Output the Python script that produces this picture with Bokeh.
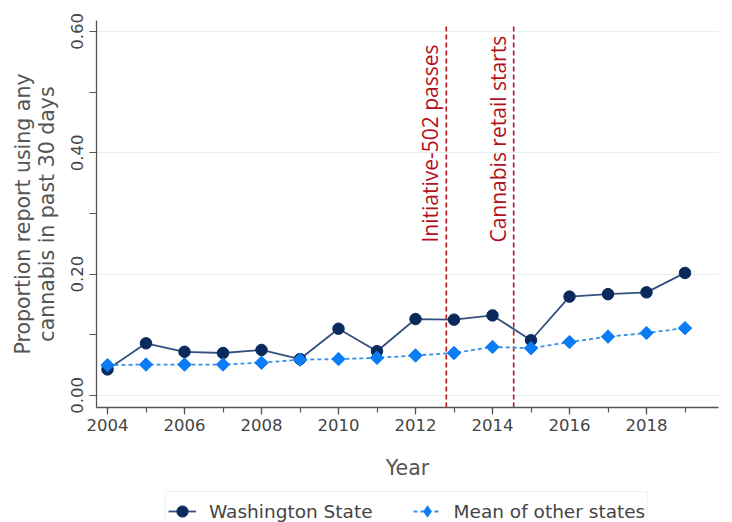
import math
from bokeh.plotting import figure
from bokeh.layouts import column
from bokeh.models import Range1d, FixedTicker, Legend, LegendItem, ColumnDataSource
from bokeh.core.properties import value
from bokeh.embed import file_html
from bokeh.resources import INLINE

years = list(range(2004, 2020))
washington = [0.043, 0.086, 0.072, 0.070, 0.075, 0.060, 0.110, 0.073,
              0.126, 0.125, 0.132, 0.091, 0.163, 0.167, 0.170, 0.202]
other_states = [0.050, 0.051, 0.051, 0.051, 0.054, 0.059, 0.060, 0.062,
                0.066, 0.070, 0.080, 0.078, 0.088, 0.097, 0.103, 0.111]
series_names = ["Washington State", "Mean of other states"]
event_x = [2012.8, 2014.55]
event_labels = ["Initiative-502 passes", "Cannabis retail starts"]
y_ticks = [0.0, 0.2, 0.4, 0.6]
x_ticks = [2004, 2006, 2008, 2010, 2012, 2014, 2016, 2018, 2020]

RED = "#b3121d"
NAVY = "#0a2a5c"
NAVY_LINE = "#34507e"
BLUE = "#0a7cf5"
BLUE_LINE = "#3a8fe8"
AX = "#555555"

p = figure(width=732, height=490, output_backend="svg", toolbar_location=None,
           x_range=Range1d(2003.714, 2019.87), y_range=Range1d(-0.0198, 0.618),
           min_border_left=96, min_border_right=14, min_border_top=20,
           min_border_bottom=83)
p.outline_line_color = None
p.background_fill_color = "white"

# grid
p.xgrid.visible = False
p.ygrid.ticker = FixedTicker(ticks=y_ticks)
p.ygrid.grid_line_color = "#e6efef"
p.ygrid.grid_line_width = 1.2

# axes
p.xaxis.ticker = FixedTicker(ticks=x_ticks, minor_ticks=list(range(2003, 2021)))
p.yaxis.ticker = FixedTicker(ticks=y_ticks, minor_ticks=[0.1, 0.3, 0.5])
p.yaxis.major_label_overrides = {t: f"{t:.2f}" for t in y_ticks}
p.yaxis.major_label_orientation = "parallel"
for ax in (p.xaxis, p.yaxis):
    ax.axis_line_color = AX
    ax.axis_line_width = 1.3
    ax.major_tick_line_color = AX
    ax.minor_tick_line_color = AX
    ax.major_tick_line_width = 1.2
    ax.minor_tick_line_width = 1.2
    ax.major_tick_in = 0
    ax.major_tick_out = 7
    ax.minor_tick_in = 0
    ax.minor_tick_out = 5
    ax.major_label_text_font = "DejaVu Sans"
    ax.major_label_text_font_size = "16.5px"
    ax.major_label_text_color = "#444444"
    ax.axis_label_text_font = "DejaVu Sans"
    ax.axis_label_text_font_size = "20.5px"
    ax.axis_label_text_font_style = "normal"
    ax.axis_label_text_color = "#555555"
p.yaxis.minor_tick_out = 7
p.xaxis.major_label_standoff = 4
p.yaxis.major_label_standoff = 6
p.xaxis.axis_label = "Year"
p.xaxis.axis_label_standoff = 22
p.yaxis.axis_label = "Proportion report using any\ncannabis in past 30 days"
p.yaxis.axis_label_standoff = 10
p.yaxis.axis_label_text_line_height = 1.0

# event lines
for ex in event_x:
    p.segment(x0=ex, y0=-0.0198, x1=ex, y1=0.613, line_color=RED,
              line_width=1.6, line_dash="5 3")
src_ev = ColumnDataSource(dict(x=event_x, y=[0.252, 0.252], t=event_labels))
p.text(x="x", y="y", text="t", source=src_ev, angle=math.pi / 2,
       text_align="left", text_baseline="bottom", x_offset=-2,
       text_font=value("Open Sans"), text_font_size="21px", text_color=RED)

# series
src = ColumnDataSource(dict(x=years, wa=washington, ot=other_states))
p.line("x", "wa", source=src, line_color=NAVY_LINE, line_width=1.8)
p.scatter("x", "wa", source=src, marker="circle", size=11.5,
          fill_color=NAVY, line_color=NAVY)
p.line("x", "ot", source=src, line_color=BLUE_LINE, line_width=1.8,
       line_dash="4 3")
p.scatter("x", "ot", source=src, marker="square", angle=math.pi / 4,
          size=9.5, fill_color=BLUE, line_color=BLUE)

# legend strip (separate canvas directly below); its renderers use the same
# data but lie outside this strip's visible range, only the legend shows
q = figure(width=732, height=32, output_backend="svg", toolbar_location=None,
           x_range=Range1d(0, 1), y_range=Range1d(0, 1),
           x_axis_type=None, y_axis_type=None,
           min_border_left=96, min_border_right=14, min_border_top=0,
           min_border_bottom=0)
q.outline_line_color = None
q.xgrid.visible = False
q.ygrid.visible = False
l1 = q.line("x", "wa", source=src, line_color=NAVY_LINE, line_width=1.8)
s1 = q.scatter("x", "wa", source=src, marker="circle", size=11.5,
               fill_color=NAVY, line_color=NAVY)
l2 = q.line("x", "ot", source=src, line_color=BLUE_LINE, line_width=1.8,
            line_dash="4 3")
s2 = q.scatter("x", "ot", source=src, marker="diamond", size=16,
               fill_color=BLUE, line_color=BLUE)
legend = Legend(items=[LegendItem(label=series_names[0], renderers=[l1, s1]),
                       LegendItem(label=series_names[1], renderers=[l2, s2])],
                orientation="horizontal", location=(69, -9))
legend.label_text_font = "DejaVu Sans"
legend.label_text_font_size = "18.5px"
legend.label_text_color = "#444444"
legend.glyph_width = 28
legend.label_standoff = 13
legend.spacing = 40
legend.padding = 2
legend.label_height = 22
legend.glyph_height = 34
legend.border_line_color = "#e2e8e8"
legend.border_line_width = 1.2
legend.background_fill_alpha = 1.0
legend.margin = 0
q.add_layout(legend, "center")

layout = column(p, q, spacing=0)
open("out.html", "w").write(file_html(layout, INLINE))
